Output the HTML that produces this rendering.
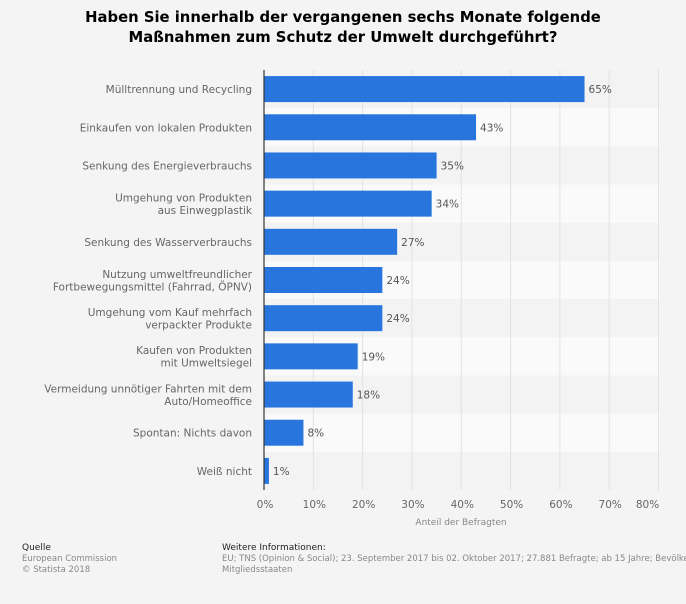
<!DOCTYPE html>
<html><head><meta charset="utf-8"><style>
body{margin:0;background:#f4f4f4;width:686px;height:600px;overflow:hidden;font-family:"DejaVu Sans","Liberation Sans",sans-serif}
</style></head><body>
<svg id="c" width="686" height="600" xmlns="http://www.w3.org/2000/svg" style="font-family:'DejaVu Sans','Liberation Sans',sans-serif">
<text x="343" y="22" text-anchor="middle" font-size="14.8" font-weight="bold" fill="#000">Haben Sie innerhalb der vergangenen sechs Monate folgende</text>
<text x="343" y="42" text-anchor="middle" font-size="14.8" font-weight="bold" fill="#000">Maßnahmen zum Schutz der Umwelt durchgeführt?</text>
<g id="bands"></g><g id="grid"></g><g id="bars"></g><g id="labels"></g>
<line x1="264" y1="70" x2="264" y2="490" stroke="#333" stroke-width="1.2"/>
<text x="461" y="525" text-anchor="middle" font-size="9" fill="#888">Anteil der Befragten</text>
<text x="22" y="550" font-size="9" fill="#222">Quelle</text>
<text x="22" y="561" font-size="8.5" fill="#888">European Commission</text>
<text x="22" y="572" font-size="8.5" fill="#888">© Statista 2018</text>
<text x="222" y="550" font-size="9" fill="#222">Weitere Informationen:</text>
<text x="222" y="561" font-size="8.5" fill="#888">EU; TNS (Opinion &amp; Social); 23. September 2017 bis 02. Oktober 2017; 27.881 Befragte; ab 15 Jahre; Bevölkerung der</text>
<text x="222" y="572" font-size="8.5" fill="#888">Mitgliedsstaaten</text>
</svg>
<script>
const categories=[["Mülltrennung und Recycling"],["Einkaufen von lokalen Produkten"],["Senkung des Energieverbrauchs"],["Umgehung von Produkten","aus Einwegplastik"],["Senkung des Wasserverbrauchs"],["Nutzung umweltfreundlicher","Fortbewegungsmittel (Fahrrad, ÖPNV)"],["Umgehung vom Kauf mehrfach","verpackter Produkte"],["Kaufen von Produkten","mit Umweltsiegel"],["Vermeidung unnötiger Fahrten mit dem","Auto/Homeoffice"],["Spontan: Nichts davon"],["Weiß nicht"]];
const values=[65,43,35,34,27,24,24,19,18,8,1];
const ticks=[0,10,20,30,40,50,60,70,80];
const tickLabels=["0%","10%","20%","30%","40%","50%","60%","70%","80%"];
const NS="http://www.w3.org/2000/svg";
const x0=264,x1=658.5,plotTop=70,plotBottom=490;
const xs=v=>x0+(v/80)*(x1-x0);
const rowH=(plotBottom-plotTop)/values.length;
const yc=i=>plotTop+rowH*(i+0.5);
function mk(t,a,p){const e=document.createElementNS(NS,t);for(const k in a)e.setAttribute(k,a[k]);document.getElementById(p).appendChild(e);return e;}
values.forEach((v,i)=>{
 const b=mk('rect',{x:x0,y:plotTop+rowH*i,width:x1-x0+1,height:rowH,fill:i%2?'#fafafa':'#f3f3f3'},'bands');
 
 
});
ticks.forEach((t,i)=>{
 const l=mk('line',{x1:xs(t),x2:xs(t),y1:plotTop,y2:plotBottom,stroke:'#e2e2e2','stroke-width':1},'grid');
 
 
 const tx=mk('text',{x:i==ticks.length-1?xs(t)-11:xs(t)+1,y:508,'text-anchor':'middle','font-size':10.5,fill:'#666'},'labels');
 tx.textContent=tickLabels[i];
 
 
});
values.forEach((v,i)=>{
 const r=mk('rect',{x:x0,y:yc(i)-13,width:xs(v)-x0,height:26,fill:'#2876dd'},'bars');
 
 
 const vl=mk('text',{x:xs(v)+4,y:yc(i)+4,'font-size':10.5,fill:'#555'},'labels');
 vl.textContent=v+'%';
 
 
 const lines=categories[i];
 lines.forEach((s,j)=>{
  const ct=mk('text',{x:252,y:yc(i)+4+(j-(lines.length-1)/2)*12.5,'text-anchor':'end','font-size':10.5,fill:'#666'},'labels');
  ct.textContent=s;
  
  
 });
});
</script>
</body></html>
